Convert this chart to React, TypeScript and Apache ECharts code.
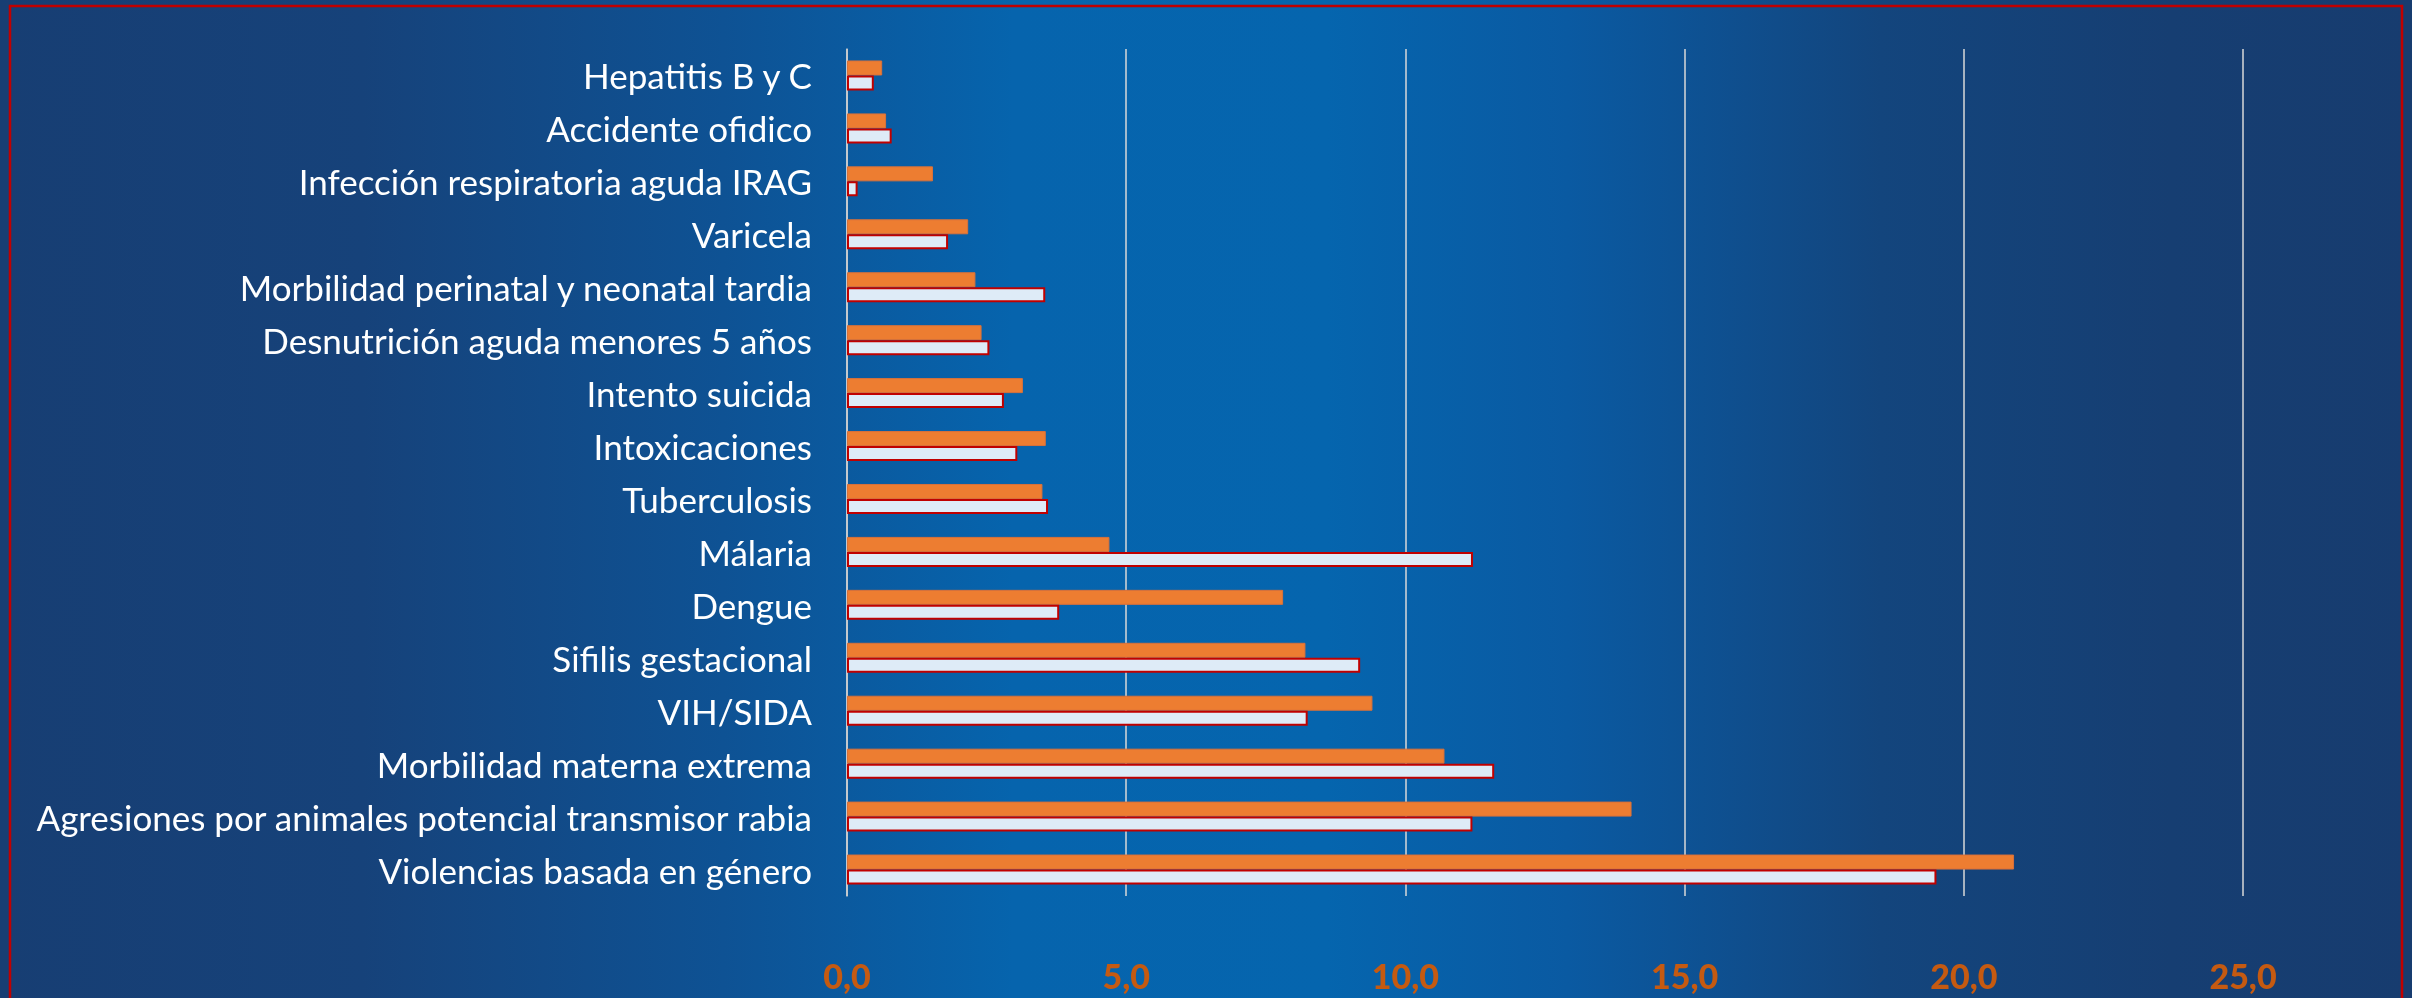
import React, { useEffect, useRef } from "react";
import * as echarts from "echarts";

const categories = [
  "Hepatitis B y C",
  "Accidente ofidico",
  "Infección respiratoria aguda IRAG",
  "Varicela",
  "Morbilidad perinatal y neonatal tardia",
  "Desnutrición aguda menores 5 años",
  "Intento suicida",
  "Intoxicaciones",
  "Tuberculosis",
  "Málaria",
  "Dengue",
  "Sifilis gestacional",
  "VIH/SIDA",
  "Morbilidad materna extrema",
  "Agresiones por animales potencial transmisor rabia",
  "Violencias basada en género",
];

const seriesOrange = [0.63, 0.7, 1.54, 2.17, 2.3, 2.41, 3.15, 3.56, 3.5, 4.7, 7.81, 8.21, 9.41, 10.7, 14.05, 20.9];
const seriesWhite = [0.48, 0.8, 0.19, 1.81, 3.55, 2.55, 2.81, 3.05, 3.6, 11.21, 3.8, 9.19, 8.25, 11.59, 11.2, 19.51];

const xMin = 0;
const xMax = 25;
const xInterval = 5;

export default function App() {
  const ref = useRef<HTMLDivElement>(null);
  useEffect(() => {
    if (!ref.current) return;
    const chart = echarts.init(ref.current, null, { renderer: "svg" });
    chart.setOption({
      animation: false,
      graphic: [
        {
          type: "rect",
          z: -10,
          silent: true,
          shape: { x: 0, y: 0, width: 2412, height: 998 },
          style: {
            fill: new echarts.graphic.LinearGradient(0, 0, 1, 0, [
              { offset: 0, color: "#173e73" },
              { offset: 0.15, color: "#16427a" },
              { offset: 0.3, color: "#0e5294" },
              { offset: 0.42, color: "#0664ad" },
              { offset: 0.55, color: "#0565ae" },
              { offset: 0.65, color: "#0a5aa2" },
              { offset: 0.78, color: "#13457d" },
              { offset: 0.9, color: "#163e72" },
              { offset: 1, color: "#173c6f" },
            ]),
          },
        },
        {
          type: "rect",
          z: 10,
          silent: true,
          shape: { x: 10, y: 6, width: 2392, height: 1100 },
          style: { fill: "none", stroke: "#c00000", lineWidth: 2.5 },
        },
      ],
      grid: { left: 847, right: 169, top: 49, bottom: 102, containLabel: false },
      xAxis: {
        type: "value",
        min: xMin,
        max: xMax,
        interval: xInterval,
        axisLine: { show: false },
        axisTick: { show: false },
        splitLine: { show: true, lineStyle: { color: "#d9d9d9", width: 1.5 } },
        axisLabel: {
          color: "#c55a11",
          fontFamily: "Lato",
          fontWeight: 900,
          fontSize: 34,
          margin: 62,
          formatter: (v: number) => v.toFixed(1).replace(".", ","),
        },
      },
      yAxis: {
        type: "category",
        data: categories,
        inverse: true,
        axisLine: { show: true, lineStyle: { color: "#cfcfcf", width: 1.5 } },
        axisTick: { show: false },
        axisLabel: {
          color: "#ffffff",
          fontFamily: "Lato",
          fontSize: 35,
          margin: 35,
        },
      },
      series: [
        {
          name: "Serie 1",
          type: "bar",
          data: seriesOrange,
          barWidth: 15,
          barGap: "0%",
          itemStyle: { color: "#ed7d31", borderColor: "#d9713a", borderWidth: 1 },
        },
        {
          name: "Serie 2",
          type: "bar",
          data: seriesWhite,
          barWidth: 15,
          barGap: "0%",
          itemStyle: { color: "#deebf7", borderColor: "#c00000", borderWidth: 2 },
        },
      ],
    });
    return () => chart.dispose();
  }, []);
  return (
    <div
      ref={ref}
      style={{ position: "fixed", left: 0, top: 0, width: 2412, height: 998 }}
    />
  );
}
